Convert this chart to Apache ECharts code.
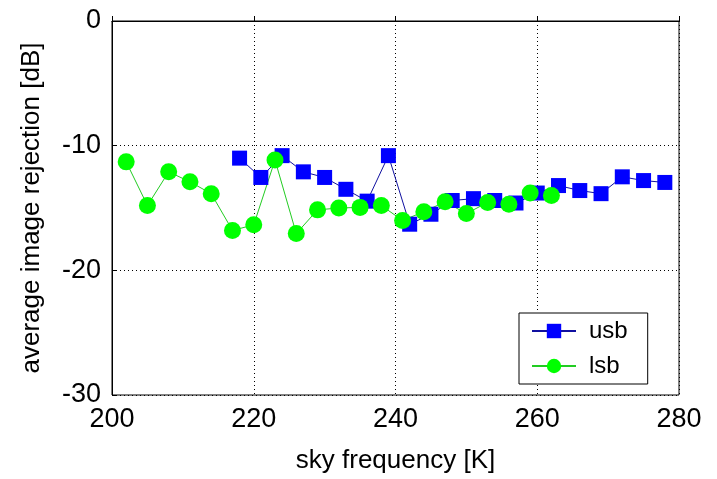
<!DOCTYPE html>
<html>
<head>
<meta charset="utf-8">
<script src="https://cdn.jsdelivr.net/npm/echarts@6/dist/echarts.min.js"></script>
<style>
html,body{margin:0;padding:0;background:#fff;}
#chart{width:717px;height:479px;}
</style>
</head>
<body>
<div id="chart"></div>
<script>
var usbFreq = [218, 221, 224, 227, 230, 233, 236, 239, 242, 245, 248, 251, 254, 257, 260, 263, 266, 269, 272, 275, 278];
var usbRej  = [-11.0, -12.55, -10.8, -12.1, -12.55, -13.5, -14.45, -10.8, -16.3, -15.5, -14.4, -14.25, -14.4, -14.6, -13.8, -13.2, -13.6, -13.85, -12.5, -12.8, -12.95];
var lsbFreq = [202, 205, 208, 211, 214, 217, 220, 223, 226, 229, 232, 235, 238, 241, 244, 247, 250, 253, 256, 259, 262];
var lsbRej  = [-11.3, -14.8, -12.1, -12.9, -13.85, -16.8, -16.35, -11.15, -17.05, -15.15, -15.0, -14.95, -14.8, -16.0, -15.3, -14.5, -15.45, -14.55, -14.7, -13.8, -14.0];
var xTicks = {min: 200, max: 280, step: 20};
var yTicks = {min: -30, max: 0, step: 10};

function pairs(xs, ys) { return xs.map(function (x, i) { return [x, ys[i]]; }); }

var font = 'Liberation Sans, Arial, Helvetica, sans-serif';
var chart = echarts.init(document.getElementById('chart'), null, {renderer: 'canvas'});
chart.setOption({
  animation: false,
  backgroundColor: '#fff',
  grid: {left: 112, right: 38, top: 21, bottom: 80, show: true, borderColor: '#000', borderWidth: 1, backgroundColor: '#fff'},
  xAxis: {
    type: 'value', min: xTicks.min, max: xTicks.max, interval: xTicks.step,
    name: 'sky frequency [K]', nameLocation: 'middle', nameGap: 53,
    nameTextStyle: {fontFamily: font, fontSize: 26, color: '#000'},
    axisLine: {show: true, lineStyle: {color: '#000', width: 1}},
    axisTick: {show: true, inside: true, length: 5, lineStyle: {color: '#000'}},
    axisLabel: {fontFamily: font, fontSize: 27, color: '#000', margin: 11},
    splitLine: {show: true, lineStyle: {color: '#000', width: 1, type: [1, 3]}}
  },
  yAxis: {
    type: 'value', min: yTicks.min, max: yTicks.max, interval: yTicks.step,
    name: 'average image rejection [dB]', nameLocation: 'middle', nameGap: 67,
    nameTextStyle: {fontFamily: font, fontSize: 26, color: '#000'},
    axisLine: {show: true, lineStyle: {color: '#000', width: 1}},
    axisTick: {show: true, inside: true, length: 5, lineStyle: {color: '#000'}},
    axisLabel: {fontFamily: font, fontSize: 27, color: '#000', margin: 11},
    splitLine: {show: true, lineStyle: {color: '#000', width: 1, type: [1, 3]}}
  },
  legend: {
    orient: 'vertical', left: 519, top: 313,
    backgroundColor: '#fff', borderColor: '#000', borderWidth: 1,
    padding: [6, 20, 6, 12], itemGap: 11, itemWidth: 44, itemHeight: 18,
    textStyle: {fontFamily: font, fontSize: 24, color: '#000', padding: [0, 0, 0, 8]},
    data: ['usb', 'lsb']
  },
  series: [
    {
      name: 'usb', type: 'line', data: pairs(usbFreq, usbRej),
      symbol: 'rect', symbolSize: 15,
      itemStyle: {color: '#0000ff'},
      lineStyle: {color: '#1010a0', width: 1}
    },
    {
      name: 'lsb', type: 'line', data: pairs(lsbFreq, lsbRej),
      symbol: 'circle', symbolSize: 17,
      itemStyle: {color: '#00ff00'},
      lineStyle: {color: '#22cc22', width: 1}
    }
  ]
});
</script>
</body>
</html>
